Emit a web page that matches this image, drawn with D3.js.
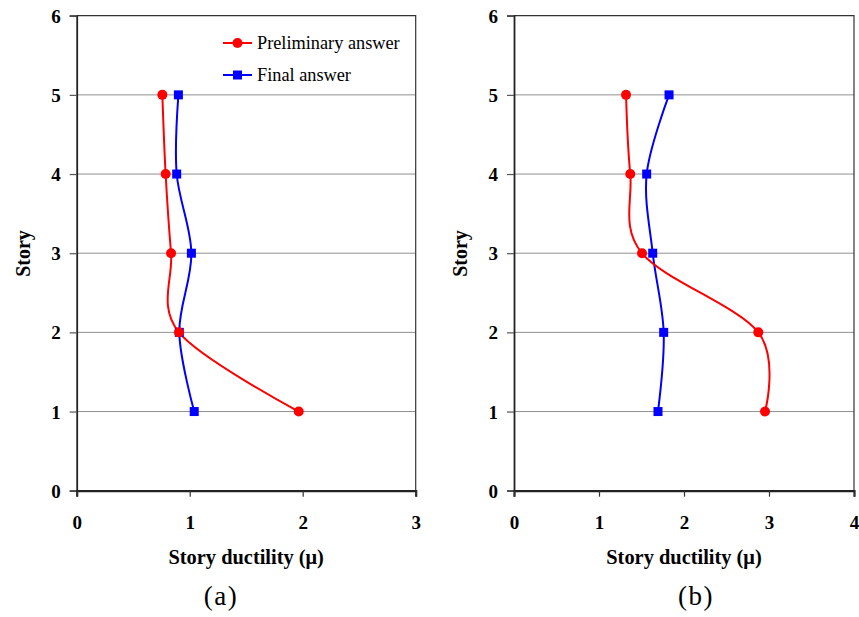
<!DOCTYPE html>
<html><head><meta charset="utf-8">
<script src="https://cdn.jsdelivr.net/npm/d3@7"></script>
<style>
html,body{margin:0;padding:0;background:#fff;}
svg{display:block;}
</style></head>
<body>
<svg id="c" width="859" height="617"></svg>
<script>
const stories = [1, 2, 3, 4, 5];
const prelimA = [1.965, 0.905, 0.835, 0.787, 0.758];
const finalA  = [1.04, 0.908, 1.015, 0.885, 0.90];
const prelimB = [2.953, 2.874, 1.506, 1.368, 1.318];
const finalB  = [1.694, 1.761, 1.632, 1.561, 1.824];
const xTicksA = [0, 1, 2, 3];
const xTicksB = [0, 1, 2, 3, 4];
const yTicks  = [0, 1, 2, 3, 4, 5, 6];
const gridTicks = [1, 2, 3, 4, 5];
const seriesNames = ["Preliminary answer", "Final answer"];
const xTitle = "Story ductility (\u03bc)";
const yTitle = "Story";
const panelLabels = ["(a)", "(b)"];

const FONT = '"Liberation Serif"';
const svg = d3.select("#c");
const RED = "#ff0000", BLUE = "#0000ff";

const panels = [
  {x0: 76.7, x1: 415.7, xMax: 3, ticks: xTicksA, prelim: prelimA, fin: finalA, label: panelLabels[0], labelX: 221, legend: true},
  {x0: 514, x1: 854, xMax: 4, ticks: xTicksB, prelim: prelimB, fin: finalB, label: panelLabels[1], labelX: 696, legend: false}
];
const yTop = 15.7, yBot = 490.7;

panels.forEach(p => {
  const x = d3.scaleLinear().domain([0, p.xMax]).range([p.x0, p.x1]);
  const y = d3.scaleLinear().domain([0, 6]).range([yBot, yTop]);
  const g = svg.append("g").attr("font-family", FONT);

  g.selectAll("line.grid").data(gridTicks).join("line")
    .attr("x1", p.x0).attr("x2", p.x1)
    .attr("y1", d => y(d)).attr("y2", d => y(d))
    .attr("stroke", "#909090").attr("stroke-width", 1);

  g.append("path")
    .attr("d", `M${p.x0},${yTop}H${p.x1}V${yBot}`)
    .attr("fill", "none").attr("stroke", "#333").attr("stroke-width", 1.2);

  const ya = g.append("g").attr("transform", `translate(${p.x0},0)`)
    .call(d3.axisLeft(y).tickValues(yTicks).tickSize(7).tickPadding(9).tickFormat(d3.format("d")));
  ya.attr("font-family", FONT).attr("font-size", 19);
  ya.select(".domain").attr("stroke", "#222").attr("stroke-width", 1.8);
  ya.selectAll(".tick line").attr("stroke", "#555").attr("stroke-width", 1.2);
  ya.selectAll(".tick text").attr("font-family", FONT).attr("font-weight", "bold")
    .attr("font-size", 19).attr("fill", "#000").attr("dy", "0.34em");

  const xa = g.append("g").attr("transform", `translate(0,${yBot})`)
    .call(d3.axisBottom(x).tickValues(p.ticks).tickSize(6).tickPadding(19).tickFormat(d3.format("d")));
  xa.attr("font-family", FONT).attr("font-size", 19);
  xa.select(".domain").attr("stroke", "#222").attr("stroke-width", 2.2);
  xa.selectAll(".tick line").attr("stroke", "#333").attr("stroke-width", 1.2);
  xa.selectAll(".tick text").attr("font-family", FONT).attr("font-weight", "bold")
    .attr("font-size", 19).attr("fill", "#000");

  g.append("text").attr("x", (p.x0 + p.x1) / 2).attr("y", 564)
    .attr("text-anchor", "middle").attr("font-family", FONT).attr("font-weight", "bold").attr("font-size", 20.4)
    .text(xTitle);
  g.append("text").attr("transform", `translate(${p.x0 - 47},253.5) rotate(-90)`)
    .attr("text-anchor", "middle").attr("font-family", FONT).attr("font-weight", "bold").attr("font-size", 20)
    .text(yTitle);
  g.append("text").attr("x", p.labelX).attr("y", 605)
    .attr("text-anchor", "middle").attr("font-family", FONT).attr("font-size", 27).attr("letter-spacing", 1.5)
    .text(p.label);

  const line = d3.line().x(d => x(d[0])).y(d => y(d[1])).curve(d3.curveCardinal.tension(0));
  const pd = p.prelim.map((v, i) => [v, stories[i]]);
  const fd = p.fin.map((v, i) => [v, stories[i]]);

  g.append("path").attr("d", line(fd)).attr("fill", "none").attr("stroke", BLUE).attr("stroke-width", 2);
  g.append("path").attr("d", line(pd)).attr("fill", "none").attr("stroke", RED).attr("stroke-width", 2);
  g.selectAll("rect.m").data(fd).join("rect")
    .attr("x", d => x(d[0]) - 4.5).attr("y", d => y(d[1]) - 4.5)
    .attr("width", 9).attr("height", 9).attr("fill", BLUE);
  g.selectAll("circle.m").data(pd).join("circle")
    .attr("cx", d => x(d[0])).attr("cy", d => y(d[1])).attr("r", 5).attr("fill", RED);

  if (p.legend) {
    const lg = g.append("g");
    const rows = [{y: 43, c: RED, m: "circle"}, {y: 75, c: BLUE, m: "rect"}];
    rows.forEach((r, i) => {
      lg.append("line").attr("x1", 223).attr("x2", 252).attr("y1", r.y).attr("y2", r.y)
        .attr("stroke", r.c).attr("stroke-width", 2);
      if (r.m === "circle") lg.append("circle").attr("cx", 237.5).attr("cy", r.y).attr("r", 5).attr("fill", r.c);
      else lg.append("rect").attr("x", 233).attr("y", r.y - 4.5).attr("width", 9).attr("height", 9).attr("fill", r.c);
      lg.append("text").attr("x", 257).attr("y", r.y).attr("dy", "0.33em")
        .attr("font-family", FONT).attr("font-size", 18.3).text(seriesNames[i]);
    });
  }
});
</script>
</body></html>
